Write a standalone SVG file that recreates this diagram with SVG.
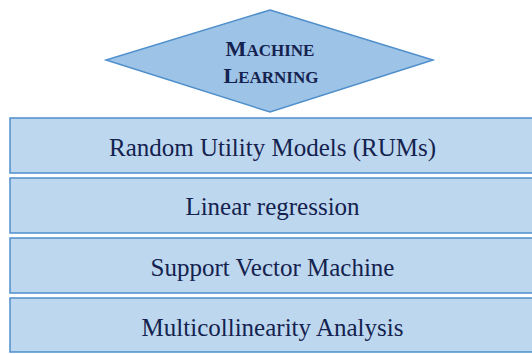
<svg xmlns="http://www.w3.org/2000/svg" width="532" height="354" viewBox="0 0 532 354">
<style>
.box{fill:#bdd7ee;stroke:#4f8fcc;stroke-width:1.5}
.lbl{font-family:"Liberation Serif","Times New Roman",serif;font-size:25px;fill:#14224f;text-anchor:middle}
.dlbl{font-family:"Liberation Serif","Times New Roman",serif;font-size:17px;font-weight:bold;fill:#14224f;text-anchor:middle}
.big{font-size:22px}
</style>
<rect width="532" height="354" fill="#ffffff"/>
<g id="machine-learning">
<polygon points="270,10 433,60 270,112 106,60" fill="#9dc3e6" stroke="#4f8fcc" stroke-width="1.5"/>
<text class="dlbl" x="270" y="56"><tspan class="big">M</tspan>ACHINE</text>
<text class="dlbl" x="271" y="83"><tspan class="big">L</tspan>EARNING</text>
</g>
<g id="rums">
<rect class="box" x="10" y="118" width="530" height="55"/>
<text class="lbl" x="272.5" y="156">Random Utility Models (RUMs)</text>
</g>
<g id="linear-regression">
<rect class="box" x="10" y="178" width="530" height="55"/>
<text class="lbl" x="272.5" y="215">Linear regression</text>
</g>
<g id="svm">
<rect class="box" x="10" y="238" width="530" height="55"/>
<text class="lbl" x="272.5" y="275.5">Support Vector Machine</text>
</g>
<g id="multicollinearity">
<rect class="box" x="10" y="298" width="530" height="54"/>
<text class="lbl" x="272.5" y="336">Multicollinearity Analysis</text>
</g>
<g id="connectors"/>
</svg>
